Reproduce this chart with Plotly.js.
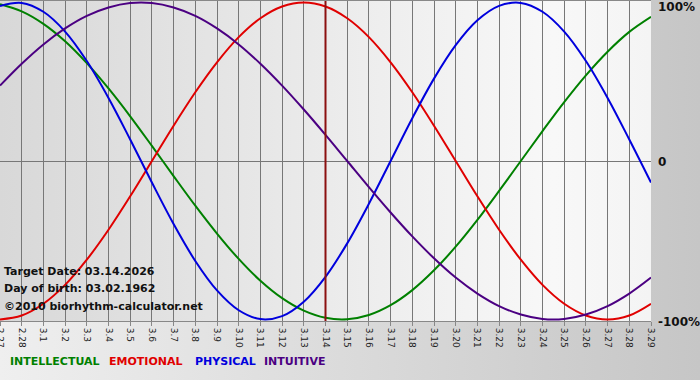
<!DOCTYPE html>
<html><head><meta charset="utf-8">
<script src="https://cdn.plot.ly/plotly-3.0.1.min.js"></script>
<style>html,body{margin:0;padding:0;} #chart{width:700px;height:380px;background:linear-gradient(to right,#efefef,#c6c6c6);}</style>
</head><body><div id="chart"></div>
<script>
const dates = ['2.27','2.28','3.1','3.2','3.3','3.4','3.5','3.6','3.7','3.8','3.9','3.10','3.11','3.12','3.13','3.14','3.15','3.16','3.17','3.18','3.19','3.20','3.21','3.22','3.23','3.24','3.25','3.26','3.27','3.28','3.29'];
const intellectual = [0.990,0.945,0.866,0.756,0.618,0.458,0.282,0.095,-0.095,-0.282,-0.458,-0.618,-0.756,-0.866,-0.945,-0.990,-0.999,-0.972,-0.910,-0.815,-0.690,-0.541,-0.372,-0.189,0,0.189,0.372,0.541,0.690,0.815,0.910];
const emotional = [-1,-0.975,-0.901,-0.782,-0.623,-0.434,-0.223,0,0.223,0.434,0.623,0.782,0.901,0.975,1,0.975,0.901,0.782,0.623,0.434,0.223,0,-0.223,-0.434,-0.623,-0.782,-0.901,-0.975,-1,-0.975,-0.901];
const physical = [0.979,0.998,0.942,0.817,0.631,0.398,0.136,-0.136,-0.398,-0.631,-0.817,-0.942,-0.998,-0.979,-0.888,-0.731,-0.520,-0.270,0,0.270,0.520,0.731,0.888,0.979,0.998,0.942,0.817,0.631,0.398,0.136,-0.136];
const intuitive = [0.476,0.614,0.736,0.837,0.916,0.969,0.997,0.997,0.969,0.916,0.837,0.736,0.614,0.476,0.325,0.165,0,-0.165,-0.325,-0.476,-0.614,-0.736,-0.837,-0.916,-0.969,-0.997,-0.997,-0.969,-0.916,-0.837,-0.736];
const seriesNames = ['INTELLECTUAL','EMOTIONAL','PHYSICAL','INTUITIVE'];
const seriesColors = ['#008000','#e00000','#0000dd','#4b0082'];
const targetDate = '3.14';
const infoLines = ['Target Date: 03.14.2026','Day of birth: 03.02.1962','©2010 biorhythm-calculator.net'];
const yLabels = ['100%','0','-100%'];

const series = [intellectual, emotional, physical, intuitive];
const traces = series.map((s,i)=>({
  x: dates, y: s, type:'scatter', mode:'lines', name: seriesNames[i],
  line:{color: seriesColors[i], width:2, shape:'spline', smoothing:1},
  hoverinfo:'skip'
}));

const grad = 'data:image/svg+xml;utf8,' + encodeURIComponent('<svg xmlns="http://www.w3.org/2000/svg" width="100" height="100" preserveAspectRatio="none"><defs><linearGradient id="g" x1="0" x2="1" y1="0" y2="0"><stop offset="0" stop-color="#d8d8d8"/><stop offset="0.85" stop-color="#f8f8f8"/><stop offset="1" stop-color="#f4f4f4"/></linearGradient></defs><rect width="100" height="100" fill="url(#g)"/></svg>');

const bold = {family:'DejaVu Sans', size:11, weight:'bold', color:'#111'};
const annotations = [];
const infoY = [0.156, 0.103, 0.044];
infoLines.forEach((t,i)=>annotations.push({xref:'paper',yref:'paper',x:0,y:infoY[i],xshift:2,xanchor:'left',yanchor:'middle',text:t,showarrow:false,font:bold}));
const legX = [8,107,193,262];
seriesNames.forEach((t,i)=>annotations.push({xref:'paper',yref:'paper',x:legX[i]/651,y:-0.125,xanchor:'left',yanchor:'middle',text:t,showarrow:false,font:{family:'DejaVu Sans',size:11,weight:'bold',color:seriesColors[i]}}));
const ylY = [0.981,0.497,-0.003];
yLabels.forEach((t,i)=>annotations.push({xref:'paper',yref:'paper',x:1,y:ylY[i],xshift:5,xanchor:'left',yanchor:'middle',text:t,showarrow:false,font:{family:'DejaVu Sans', size:12, weight:'bold', color:'#111'}}));

const layout = {
  width:700, height:380,
  margin:{l:0,r:49,t:1,b:59},
  paper_bgcolor:'rgba(0,0,0,0)', plot_bgcolor:'rgba(0,0,0,0)',
  showlegend:false,
  xaxis:{type:'category', range:[0,30], showgrid:true, gridcolor:'#777', gridwidth:1,
    tickangle:90, tickfont:{family:'DejaVu Sans', size:9, color:'#222'}, ticks:'outside', ticklen:4, tickcolor:'#888',
    showline:true, linecolor:'#888', linewidth:1, mirror:true, zeroline:false, fixedrange:true},
  yaxis:{range:[-1.01,1.01], showgrid:false, showticklabels:false, zeroline:true, zerolinecolor:'#777', zerolinewidth:1, fixedrange:true},
  images:[{source:grad, xref:'paper', yref:'paper', x:0, y:1, sizex:1, sizey:1, sizing:'stretch', xanchor:'left', yanchor:'top', layer:'below'}],
  shapes:[{type:'line', xref:'x', yref:'paper', x0:dates.indexOf(targetDate), x1:dates.indexOf(targetDate), y0:0, y1:1, line:{color:'#8b1010', width:2}}],
  annotations: annotations
};
Plotly.newPlot('chart', traces, layout, {displayModeBar:false, staticPlot:true});
</script></body></html>
